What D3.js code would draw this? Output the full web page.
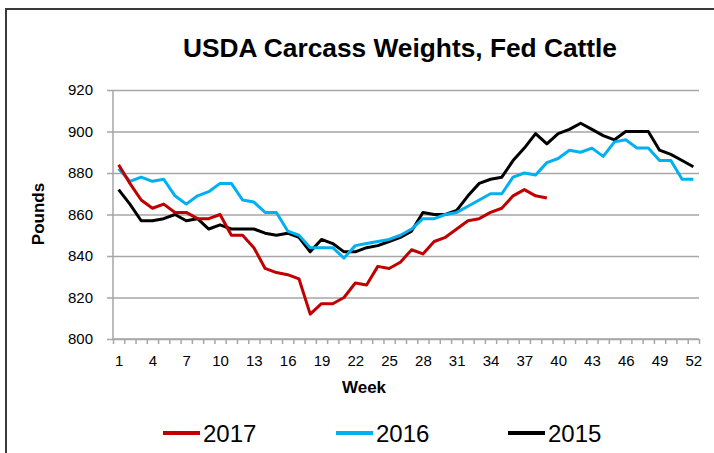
<!DOCTYPE html>
<html lang="en">
<head>
<meta charset="UTF-8">
<title>USDA Carcass Weights, Fed Cattle</title>
<script src="https://d3js.org/d3.v7.min.js"></script>
<style>
  body { margin: 0; background: #fff; }
  text { font-family: "Liberation Sans", Arial, sans-serif; fill: #000; }
</style>
</head>
<body>
<div id="chart"></div>
<script>
// weekly fed cattle carcass weights (pounds)
const weeks = d3.range(1, 53);
const tickWeeks = [1, 4, 7, 10, 13, 16, 19, 22, 25, 28, 31, 34, 37, 40, 43, 46, 49, 52];
const yTicks = [800, 820, 840, 860, 880, 900, 920];

const w2017 = [884, 875, 867, 863, 865, 861, 861, 858, 858, 860, 850, 850, 844, 834, 832, 831, 829, 812, 817, 817,
               820, 827, 826, 835, 834, 837, 843, 841, 847, 849, 853, 857, 858, 861, 863, 869, 872, 869, 868];
const w2016 = [882, 876, 878, 876, 877, 869, 865, 869, 871, 875, 875, 867, 866, 861, 861, 852, 850, 844, 844, 844,
               839, 845, 846, 847, 848, 850, 853, 858, 858, 860, 861, 864, 867, 870, 870, 878, 880, 879, 885, 887,
               891, 890, 892, 888, 895, 896, 892, 892, 886, 886, 877, 877];
const w2015 = [872, 865, 857, 857, 858, 860, 857, 858, 853, 855, 853, 853, 853, 851, 850, 851, 849, 842, 848, 846,
               842, 842, 844, 845, 847, 849, 852, 861, 860, 860, 862, 869, 875, 877, 878, 886, 892, 899, 894, 899,
               901, 904, 901, 898, 896, 900, 900, 900, 891, 889, 886, 883];

const seriesNames = ["2017", "2016", "2015"];
const seriesValues = [w2017, w2016, w2015];
const colors = ["#C00000", "#00B0F0", "#000000"];

const W = 714, H = 453;
const plot = { left: 113, right: 699, top: 90, bottom: 339 };

const svg = d3.select("#chart").append("svg")
    .attr("width", W)
    .attr("height", H);

// outer frame (only top and left edges are in view)
svg.append("rect")
    .attr("x", 6).attr("y", 9)
    .attr("width", 720).attr("height", 460)
    .attr("fill", "none")
    .attr("stroke", "#3a3a3a")
    .attr("stroke-width", 2);

const x = d3.scaleLinear().domain([0.5, 52.5]).range([plot.left, plot.right]);
const y = d3.scaleLinear().domain([800, 920]).range([plot.bottom, plot.top]);

// gridlines + y axis
const yAxis = svg.append("g")
    .attr("transform", `translate(${plot.left},0)`)
    .call(d3.axisLeft(y).tickValues(yTicks).tickSize(6).tickPadding(14));
yAxis.select(".domain").remove();
yAxis.selectAll(".tick line")
    .attr("x2", plot.right - plot.left)
    .attr("x1", -6)
    .attr("stroke", "#a6a6a6")
    .attr("stroke-width", 1.5);
yAxis.selectAll(".tick text")
    .style("font-size", "15px");

svg.append("line")
    .attr("x1", plot.left).attr("x2", plot.left)
    .attr("y1", plot.top).attr("y2", plot.bottom)
    .attr("stroke", "#a6a6a6")
    .attr("stroke-width", 1.5);

// x axis: minor ticks between weeks, labels every 3 weeks
const xMinor = svg.append("g")
    .attr("transform", `translate(0,${plot.bottom})`)
    .call(d3.axisBottom(x).tickValues(d3.range(0.5, 53, 1)).tickSize(5).tickFormat(""));
xMinor.select(".domain")
    .attr("d", `M${plot.left},0H${plot.right}`)
    .attr("stroke", "#a6a6a6")
    .attr("stroke-width", 1.5);
xMinor.selectAll(".tick line").attr("stroke", "#a6a6a6").attr("stroke-width", 1.5);

const xLabels = svg.append("g")
    .attr("transform", `translate(0,${plot.bottom})`)
    .call(d3.axisBottom(x).tickValues(tickWeeks).tickSize(0).tickPadding(16));
xLabels.select(".domain").remove();
xLabels.selectAll(".tick text").style("font-size", "15px");

// lines
const line = d3.line()
    .x((d, i) => x(weeks[i]))
    .y(d => y(d));

// draw 2015 first so 2017 sits on top
[2, 1, 0].forEach(i => {
    svg.append("path")
        .datum(seriesValues[i])
        .attr("fill", "none")
        .attr("stroke", colors[i])
        .attr("stroke-width", 3)
        .attr("stroke-linejoin", "round")
        .attr("d", line);
});

// title
svg.append("text")
    .attr("x", 400).attr("y", 57)
    .attr("text-anchor", "middle")
    .attr("textLength", 434)
    .attr("lengthAdjust", "spacingAndGlyphs")
    .style("font-size", "26px")
    .style("font-weight", "bold")
    .text("USDA Carcass Weights, Fed Cattle");

// axis titles
svg.append("text")
    .attr("transform", "translate(44,214) rotate(-90)")
    .attr("text-anchor", "middle")
    .style("font-size", "17px")
    .style("font-weight", "bold")
    .text("Pounds");

svg.append("text")
    .attr("x", 364).attr("y", 393)
    .attr("text-anchor", "middle")
    .style("font-size", "17px")
    .style("font-weight", "bold")
    .text("Week");

// legend
const legendX = [163, 336, 508];
seriesNames.forEach((name, i) => {
    const g = svg.append("g").attr("transform", `translate(${legendX[i]},433)`);
    g.append("line")
        .attr("x1", 0).attr("x2", 37)
        .attr("stroke", colors[i])
        .attr("stroke-width", 4);
    g.append("text")
        .attr("x", 40).attr("y", 9)
        .style("font-size", "24px")
        .text(name);
});
</script>
</body>
</html>
